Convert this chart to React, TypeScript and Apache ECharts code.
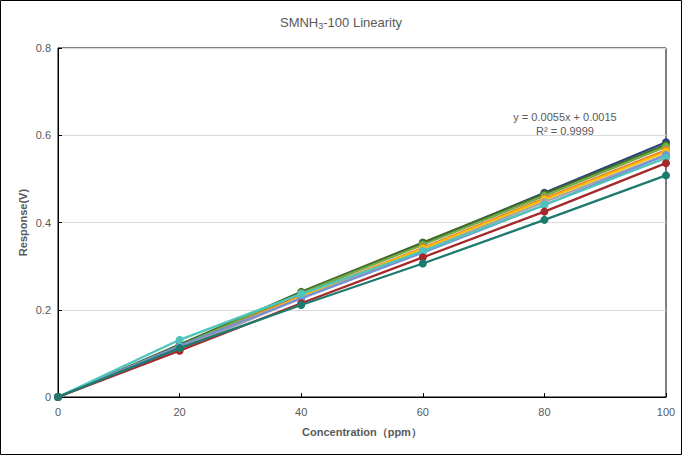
import React, { useEffect, useRef } from "react";
import * as echarts from "echarts";

const concentrations = [0, 20, 40, 60, 80, 100];
const seriesNames = ["S1", "S2", "S3", "S4", "S5", "S6", "S7", "S8", "S9", "S10"];
const seriesColors = ["#264478", "#43682B", "#70AD47", "#ED7D31", "#FFC000", "#A5A5A5", "#7C8FD6", "#4CC5BD", "#A5282B", "#1E7A6E"];
const seriesValues = [
  [0, 0.118, 0.237, 0.352, 0.468, 0.584],
  [0, 0.12, 0.241, 0.354, 0.466, 0.578],
  [0, 0.117, 0.238, 0.349, 0.461, 0.574],
  [0, 0.113, 0.232, 0.342, 0.455, 0.566],
  [0, 0.112, 0.23, 0.34, 0.452, 0.562],
  [0, 0.11, 0.227, 0.335, 0.447, 0.556],
  [0, 0.117, 0.226, 0.331, 0.44, 0.554],
  [0, 0.131, 0.236, 0.334, 0.44, 0.548],
  [0, 0.106, 0.215, 0.32, 0.425, 0.536],
  [0, 0.112, 0.211, 0.306, 0.406, 0.508],
];
const equationText = "y = 0.0055x + 0.0015";
const r2Text = "R² = 0.9999";

export default function App() {
  const ref = useRef<HTMLDivElement>(null);
  useEffect(() => {
    document.body.style.margin = "0";
    const chart = echarts.init(ref.current!, null, { renderer: "svg" });
    const font = "Liberation Sans";
    chart.setOption({
      animation: false,
      backgroundColor: "#fff",
      title: {
        text: "{a|SMNH}{s|3}{a|-100 Linearity}",
        left: "center",
        top: 10,
        textStyle: {
          fontWeight: "normal",
          rich: {
            a: { fontFamily: font, fontSize: 13, fontWeight: "normal", color: "#595959" },
            s: { fontFamily: font, fontSize: 9, fontWeight: "normal", color: "#595959", verticalAlign: "bottom", padding: [6, 0, 0, 0] },
          },
        },
      },
      grid: {
        left: 58,
        right: 16,
        top: 48,
        bottom: 58,
        show: true,
        borderColor: "#000",
        borderWidth: 1,
        backgroundColor: "transparent",
      },
      xAxis: {
        type: "value",
        min: 0,
        max: 100,
        interval: 20,
        name: "Concentration（ppm）",
        nameLocation: "middle",
        nameGap: 29,
        nameTextStyle: { fontFamily: font, fontSize: 11, fontWeight: "bold", color: "#595959" },
        axisLine: { lineStyle: { color: "#000", width: 1 } },
        axisTick: { inside: true, length: 4, lineStyle: { color: "#000" } },
        axisLabel: { fontFamily: font, fontSize: 11, color: "#595959", margin: 9 },
        splitLine: { show: false },
      },
      yAxis: {
        type: "value",
        min: 0,
        max: 0.8,
        interval: 0.2,
        name: "Response(V)",
        nameLocation: "middle",
        nameGap: 30,
        nameMoveOverlap: false,
        nameTextStyle: { fontFamily: font, fontSize: 11, fontWeight: "bold", color: "#595959" },
        axisLine: { show: true, lineStyle: { color: "#000", width: 1 } },
        axisTick: { show: true, inside: true, length: 4, lineStyle: { color: "#000" } },
        axisLabel: { fontFamily: font, fontSize: 11, color: "#595959", margin: 7 },
        splitLine: { show: true, lineStyle: { color: "#D9D9D9", width: 1 } },
      },
      series: seriesValues.map((vals, i) => ({
        type: "line",
        name: seriesNames[i],
        data: concentrations.map((c, j) => [c, vals[j]]),
        symbol: "circle",
        symbolSize: 8,
        lineStyle: { width: 2.25, color: seriesColors[i] },
        itemStyle: { color: seriesColors[i] },
        z: 2 + i,
      })),
      graphic: [
        {
          type: "rect",
          shape: { x: 0.5, y: 0.5, width: 681, height: 454 },
          style: { fill: "none", stroke: "#000", lineWidth: 1 },
          z: 100,
        },
        {
          type: "text",
          x: 565,
          y: 117,
          style: { text: equationText, fontFamily: font, fontSize: 11, fill: "#595959", align: "center", verticalAlign: "middle" },
          z: 100,
        },
        {
          type: "text",
          x: 565,
          y: 131,
          style: { text: r2Text, fontFamily: font, fontSize: 11, fill: "#595959", align: "center", verticalAlign: "middle" },
          z: 100,
        },
      ],
    });
    return () => chart.dispose();
  }, []);
  return <div ref={ref} style={{ width: 682, height: 455, position: "absolute", left: 0, top: 0 }} />;
}
